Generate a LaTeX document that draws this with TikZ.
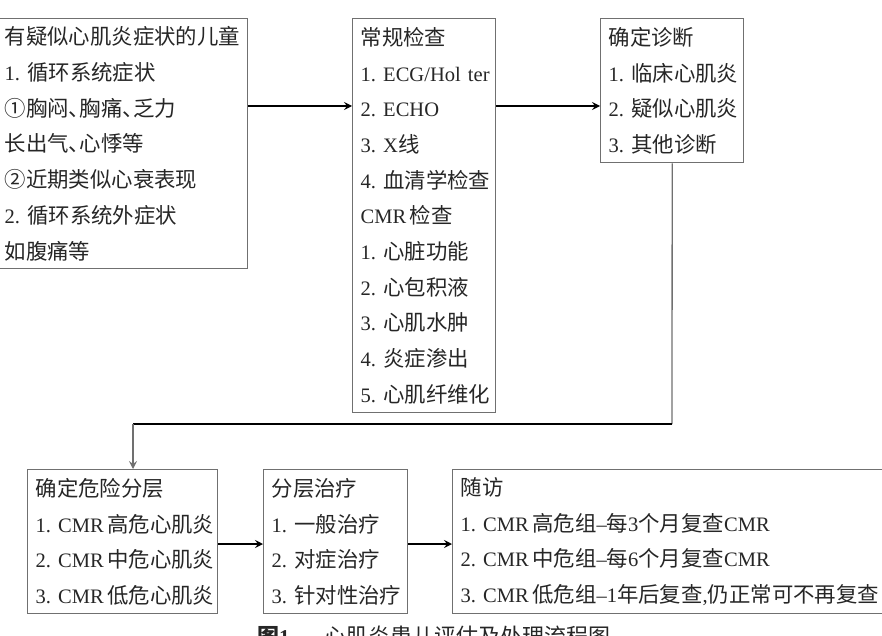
\documentclass[tikz,border=0pt]{standalone}
\usepackage{fontspec}
\setmainfont{Noto Sans CJK SC}
\newfontfamily\latf[Scale=0.96]{Liberation Serif}
\newcommand\lat[1]{{\latf #1}}
\newcommand\dun{、\kern-0.5em}
\usetikzlibrary{arrows.meta}
\definecolor{boxgray}{HTML}{707070}
\definecolor{txt}{HTML}{262626}
\begin{document}
\begin{tikzpicture}[x=1pt,y=-1pt,
  box/.style={draw=boxgray,line width=1.4pt,anchor=north west,inner xsep=8pt,inner ysep=0pt,
    align=left,font=\fontsize{21.4pt}{35.7pt}\selectfont,text=txt},
  tip/.style={-{Stealth[length=8pt,width=8pt,inset=3pt]}},
  arr/.style={draw=black,line width=1.2pt,tip},
  link/.style={draw=boxgray,line width=1.3pt}]
\useasboundingbox (0,0) rectangle (882,636);

\node[box,text width=235pt,minimum height=250pt] (b1) at (-4,18) {%
有疑似心肌炎症状的儿童\\
\lat{1.~}循环系统症状\\
①胸闷\dun 胸痛\dun 乏力\\
长出气\dun 心悸等\\
②近期类似心衰表现\\
\lat{2.~}循环系统外症状\\
如腹痛等};

\node[box,text width=127pt,minimum height=394pt] (b2) at (352,18) {%
常规检查\\
\lat{1.~ECG/Hol~ter}\\
\lat{2.~ECHO}\\
\lat{3.~X}线\\
\lat{4.~}血清学检查\\
\lat{CMR\,}检查\\
\lat{1.~}心脏功能\\
\lat{2.~}心包积液\\
\lat{3.~}心肌水肿\\
\lat{4.~}炎症渗出\\
\lat{5.~}心肌纤维化};

\node[box,text width=127pt,minimum height=144pt] (b3) at (600,18) {%
确定诊断\\
\lat{1.~}临床心肌炎\\
\lat{2.~}疑似心肌炎\\
\lat{3.~}其他诊断};

\node[box,text width=174pt,minimum height=144pt] (b4) at (27,469) {%
确定危险分层\\
\lat{1.~CMR\,}高危心肌炎\\
\lat{2.~CMR\,}中危心肌炎\\
\lat{3.~CMR\,}低危心肌炎};

\node[box,text width=128pt,minimum height=144pt] (b5) at (263,469) {%
分层治疗\\
\lat{1.~}一般治疗\\
\lat{2.~}对症治疗\\
\lat{3.~}针对性治疗};

\node[box,text width=424pt,minimum height=144pt] (b6) at (452,469) {%
随访\\
\lat{1.~CMR\,}高危组\lat{\textendash}每\lat{3}个月复查\lat{CMR}\\
\lat{2.~CMR\,}中危组\lat{\textendash}每\lat{6}个月复查\lat{CMR}\\
\lat{3.~CMR\,}低危组\lat{\textendash1}年后复查\lat{,}仍正常可不再复查};

\coordinate (r1) at (0,106);
\coordinate (r2) at (0,544);
\coordinate (turn) at (133,424);
\coordinate (corner) at (672,424);

\draw[arr] (b1.east |- r1) -- (b2.west |- r1);
\draw[arr] (b2.east |- r1) -- (b3.west |- r1);
\draw[link] (b3.south) -- (corner);
\draw[draw=black,line width=1.2pt] (corner) -- (turn);
\draw[link,tip] (turn) -- (turn |- b4.north);
\draw[arr] (b4.east |- r2) -- (b5.west |- r2);
\draw[arr] (b5.east |- r2) -- (b6.west |- r2);

\node[anchor=north west,inner sep=0pt,font=\fontsize{22pt}{22pt}\selectfont,text=txt] (cap) at (257,626)
  {\textbf{图\lat{1}}\hspace{1.6em}心肌炎患儿评估及处理流程图};
\end{tikzpicture}
\end{document}
